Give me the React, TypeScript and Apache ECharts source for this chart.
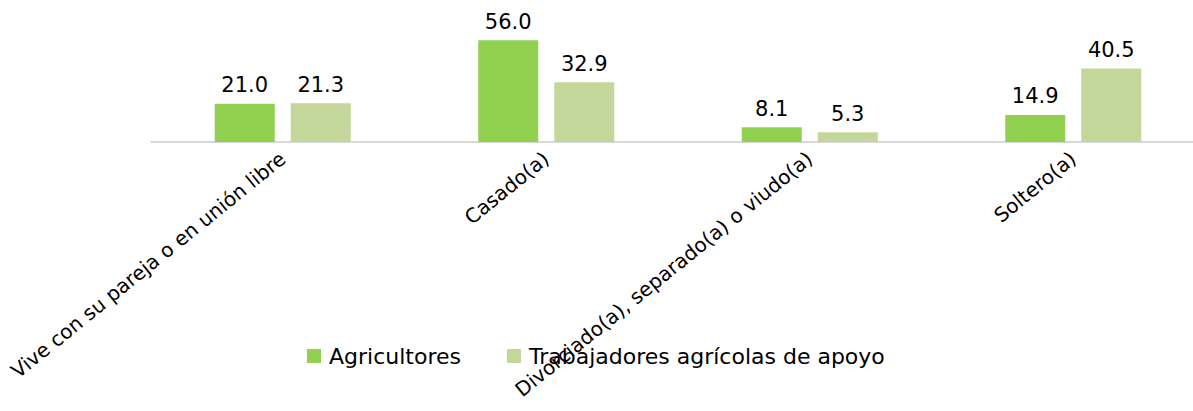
import React, { useEffect, useRef } from "react";
import * as echarts from "echarts";

const categories = [
  "Vive con su pareja o en unión libre",
  "Casado(a)",
  "Divorciado(a), separado(a) o viudo(a)",
  "Soltero(a)",
];
const agricultores = [21.0, 56.0, 8.1, 14.9];
const trabajadores = [21.3, 32.9, 5.3, 40.5];
const seriesNames = ["Agricultores", "Trabajadores agrícolas de apoyo"];

const FONT = "DejaVu Sans";

export default function App() {
  const ref = useRef<HTMLDivElement>(null);
  useEffect(() => {
    document.body.style.margin = "0";
    const chart = echarts.init(ref.current!, null, { renderer: "svg" });
    const label = {
      show: true,
      position: "top" as const,
      distance: 8,
      color: "#000",
      fontFamily: FONT,
      fontSize: 21,
      formatter: (p: any) => Number(p.value).toFixed(1),
    };
    chart.setOption({
      animation: false,
      backgroundColor: "#fff",
      grid: { left: 151, right: 5, top: 33, bottom: 269, containLabel: false },
      legend: {
        data: seriesNames,
        left: 302,
        top: 340,
        icon: "rect",
        itemWidth: 14,
        itemHeight: 14,
        itemGap: 46,
        textStyle: { fontFamily: FONT, fontSize: 22, color: "#000", padding: [0, 0, 0, 3] },
      },
      xAxis: {
        type: "category",
        data: categories,
        axisLine: { show: true, lineStyle: { color: "#d9d9d9", width: 2 } },
        axisTick: { show: false },
        axisLabel: {
          interval: 0,
          rotate: 39,
          margin: 14,
          color: "#000",
          fontFamily: FONT,
          fontSize: 20,
        },
      },
      yAxis: {
        type: "value",
        min: 0,
        max: 60,
        show: false,
        splitLine: { show: false },
      },
      series: [
        {
          name: seriesNames[0],
          type: "bar",
          data: agricultores,
          barWidth: 60,
          barGap: "26.7%",
          itemStyle: { color: "#92d050" },
          label,
        },
        {
          name: seriesNames[1],
          type: "bar",
          data: trabajadores,
          barWidth: 60,
          itemStyle: { color: "#c4d79b" },
          label,
        },
      ],
    });
    return () => chart.dispose();
  }, []);
  return (
    <div style={{ width: 1193, height: 411, overflow: "hidden" }}>
      <div ref={ref} style={{ width: 1210, height: 411 }} />
    </div>
  );
}
